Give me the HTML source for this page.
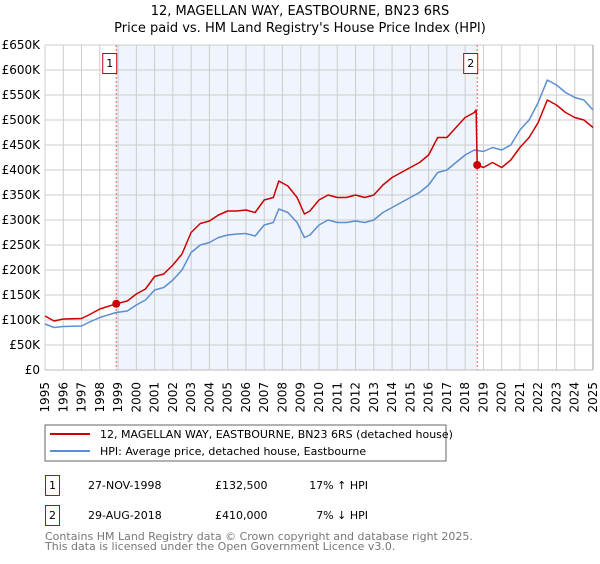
<!DOCTYPE html>
<html><head><meta charset="utf-8"><style>
body{margin:0;background:#fff;font-family:"DejaVu Sans","Liberation Sans",sans-serif;}
svg text{font-family:"DejaVu Sans","Liberation Sans",sans-serif;}
</style></head><body>
<svg id="c" width="600" height="560" xmlns="http://www.w3.org/2000/svg">
<text x="300" y="15" text-anchor="middle" font-size="13" fill="#000">12, MAGELLAN WAY, EASTBOURNE, BN23 6RS</text>
<text x="300" y="32" text-anchor="middle" font-size="13" fill="#000">Price paid vs. HM Land Registry's House Price Index (HPI)</text>
<g id="plot"></g>
<rect x="45" y="425" width="401" height="36" fill="#fff" stroke="#666"/>
<line x1="50" y1="434" x2="90" y2="434" stroke="#cc0000" stroke-width="2"/>
<text x="100" y="438" font-size="11">12, MAGELLAN WAY, EASTBOURNE, BN23 6RS (detached house)</text>
<line x1="50" y1="451" x2="90" y2="451" stroke="#5b8fd1" stroke-width="2"/>
<text x="100" y="455" font-size="11">HPI: Average price, detached house, Eastbourne</text>
<g>
<rect x="45.5" y="475.5" width="14" height="20" fill="#fff" stroke="#cc0000"/>
<text x="52.5" y="489" font-size="11" text-anchor="middle">1</text>
<text x="88" y="489" font-size="11">27-NOV-1998</text>
<text x="215" y="489" font-size="11">£132,500</text>
<text x="368" y="489" font-size="11" text-anchor="end">17% ↑ HPI</text>
</g>
<g>
<rect x="45.5" y="505.5" width="14" height="20" fill="#fff" stroke="#cc0000"/>
<text x="52.5" y="519" font-size="11" text-anchor="middle">2</text>
<text x="88" y="519" font-size="11">29-AUG-2018</text>
<text x="215" y="519" font-size="11">£410,000</text>
<text x="368" y="519" font-size="11" text-anchor="end">7% ↓ HPI</text>
</g>
<text x="45" y="540" font-size="11" fill="#777">Contains HM Land Registry data © Crown copyright and database right 2025.</text>
<text x="45" y="550" font-size="11" fill="#777">This data is licensed under the Open Government Licence v3.0.</text>
</svg>
<script>
const hpiYears=[1995,1995.5,1996,1997,1997.5,1998,1998.9,1999.5,2000,2000.5,2001,2001.5,2002,2002.5,2003,2003.5,2004,2004.5,2005,2005.5,2006,2006.5,2007,2007.5,2007.8,2008.3,2008.8,2009.2,2009.5,2010,2010.5,2011,2011.5,2012,2012.5,2013,2013.5,2014,2014.5,2015,2015.5,2016,2016.5,2017,2017.5,2018,2018.5,2019,2019.5,2020,2020.5,2021,2021.5,2022,2022.5,2023,2023.5,2024,2024.5,2025];
const hpiValues=[92,85,87,88,97,105,115,118,130,140,160,165,180,200,235,250,255,265,270,272,273,268,290,295,322,315,295,265,270,290,300,295,295,298,295,300,315,325,335,345,355,370,395,400,415,430,440,437,445,440,450,480,500,535,580,570,555,545,540,520];
const priceYears=[1995,1995.5,1996,1997,1997.5,1998,1998.9,1999.5,2000,2000.5,2001,2001.5,2002,2002.5,2003,2003.5,2004,2004.5,2005,2005.5,2006,2006.5,2007,2007.5,2007.8,2008.3,2008.8,2009.2,2009.5,2010,2010.5,2011,2011.5,2012,2012.5,2013,2013.5,2014,2014.5,2015,2015.5,2016,2016.5,2017,2017.5,2018,2018.5,2018.6,2018.66,2019,2019.5,2020,2020.5,2021,2021.5,2022,2022.5,2023,2023.5,2024,2024.5,2025];
const priceValues=[108,98,102,103,112,122,132.5,138,152,162,187,192,210,232,275,293,298,310,318,318,320,315,340,345,378,368,345,312,318,340,350,345,345,350,345,350,370,385,395,405,415,430,465,465,485,505,515,520,410,405,415,405,420,445,465,495,540,530,515,505,500,485];
const saleYears=[1998.9,2018.66];
const saleValues=[132.5,410];
const saleLabels=["1","2"];
const yTicks=[0,50,100,150,200,250,300,350,400,450,500,550,600,650];
const yTickLabels=["£0","£50K","£100K","£150K","£200K","£250K","£300K","£350K","£400K","£450K","£500K","£550K","£600K","£650K"];
const xTicks=[1995,1996,1997,1998,1999,2000,2001,2002,2003,2004,2005,2006,2007,2008,2009,2010,2011,2012,2013,2014,2015,2016,2017,2018,2019,2020,2021,2022,2023,2024,2025];

const L=45,R=593,T=45,B=370;
const xs=y=>L+(y-1995)/30*(R-L);
const ys=v=>B-v/650*(B-T);
const NS="http://www.w3.org/2000/svg";
const g=document.getElementById('plot');
function mk(t,a){const e=document.createElementNS(NS,t);for(const k in a)e.setAttribute(k,a[k]);g.appendChild(e);return e;}
let e=mk('rect',{x:xs(saleYears[0]),y:T,width:xs(saleYears[1])-xs(saleYears[0]),height:B-T,fill:'#f0f4fd'});


xTicks.forEach(t=>{
 let l=mk('line',{x1:xs(t),x2:xs(t),y1:T,y2:B,stroke:t===2025?'#999':'#cccccc'});
 
 
 let tx=mk('text',{x:0,y:0,'font-size':12,'text-anchor':'end',transform:`translate(${xs(t)+4},${B+12}) rotate(-90)`});
 tx.textContent=t;
 
 
});
yTicks.forEach((t,i)=>{
 let l=mk('line',{x1:L,x2:R,y1:ys(t),y2:ys(t),stroke:'#cccccc'});
 
 
 let tx=mk('text',{x:L-5,y:ys(t)+4,'font-size':12,'text-anchor':'end'});
 tx.textContent=yTickLabels[i];
 
 
});
saleYears.forEach((y,i)=>{
 let l=mk('line',{x1:xs(y),x2:xs(y),y1:T,y2:B,stroke:'#e06060','stroke-dasharray':'2,2'});
 
 
 let r=mk('rect',{x:xs(y)-13.5,y:53.5,width:14,height:20,fill:'#fff',stroke:'#cc0000'});
 
 
 let tx=mk('text',{x:xs(y)-6.5,y:67,'font-size':11,'text-anchor':'middle'});
 tx.textContent=saleLabels[i];
 
 
});
function path(xa,va,col,name){
 let d=xa.map((x,i)=>(i?'L':'M')+xs(x).toFixed(1)+','+ys(va[i]).toFixed(1)).join('');
 let p=mk('path',{d:d,fill:'none',stroke:col,'stroke-width':1.5,'stroke-linejoin':'round'});
 
 
}
path(hpiYears,hpiValues,'#5b8fd1','hpi-line');
path(priceYears,priceValues,'#cc0000','price-line');
saleYears.forEach((y,i)=>{
 let c=mk('circle',{cx:xs(y),cy:ys(saleValues[i]),r:4,fill:'#cc0000'});
 
 
});
let ax=mk('line',{x1:L,x2:R,y1:B,y2:B,stroke:'#bbb'});


</script>
</body></html>
